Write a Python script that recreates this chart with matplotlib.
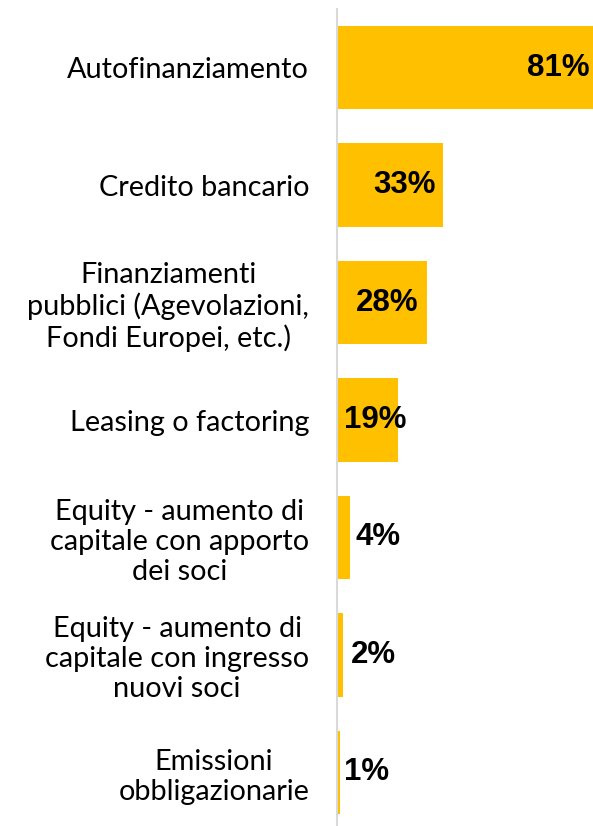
import matplotlib.pyplot as plt

categories = [
    "Autofinanziamento",
    "Credito bancario",
    "Finanziamenti\npubblici (Agevolazioni,\nFondi Europei, etc.)",
    "Leasing o factoring",
    "Equity - aumento di\ncapitale con apporto\ndei soci",
    "Equity - aumento di\ncapitale con ingresso\nnuovi soci",
    "Emissioni\nobbligazionarie",
]
values = [81, 33, 28, 19, 4, 2, 1]
labels = ["81%", "33%", "28%", "19%", "4%", "2%", "1%"]

# where the data labels sit (in % units), like the Excel layout
label_x = [68.8, 21.0, 15.6, 11.9, 12.6, 11.2, 9.2]

fig = plt.figure(figsize=(5.93, 8.26), dpi=100)
ax = fig.add_axes([337 / 593, -5 / 826, 256 / 593, 822 / 826])

pos = list(range(len(values)))
ax.barh(pos, values, height=0.71, color="#FFC000")
ax.set_ylim(len(values) - 0.5, -0.5)
ax.set_xlim(0, 79.5)

for y, x, lab in zip(pos, label_x, labels):
    ax.text(x, y, lab, ha="center", va="center", fontsize=22.5,
            fontweight="bold", family="Liberation Sans", color="black")

ax.set_yticks(pos)
ax.set_yticklabels(categories, fontsize=20.8, family="Lato",
                   multialignment="center", linespacing=1.18)
ax.tick_params(axis="y", length=0, pad=20)
ax.set_xticks([])
for s in ["top", "right", "bottom"]:
    ax.spines[s].set_visible(False)
ax.spines["left"].set_color("#D9D9D9")
ax.spines["left"].set_linewidth(1.5)

fig.savefig("out.png", dpi=100)
